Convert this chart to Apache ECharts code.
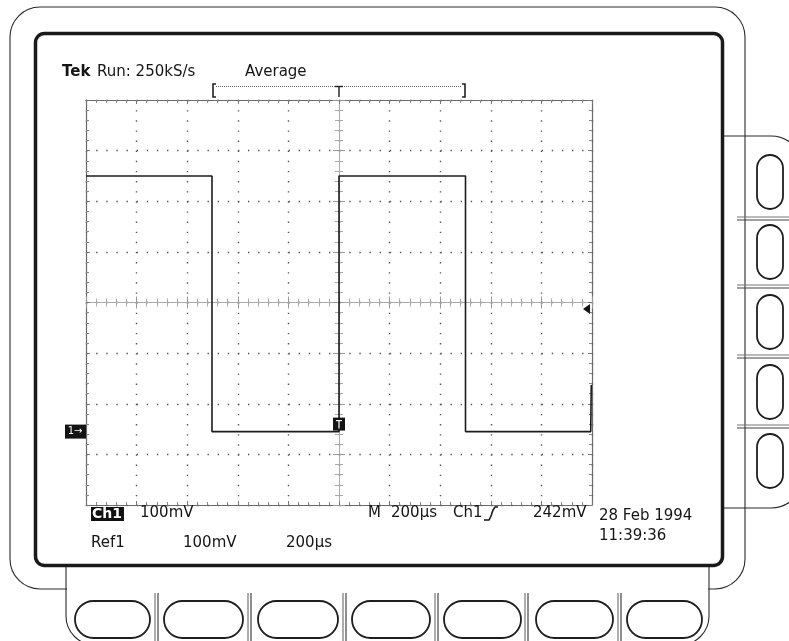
<!DOCTYPE html>
<html>
<head>
<meta charset="utf-8">
<script src="https://cdn.jsdelivr.net/npm/echarts@6/dist/echarts.min.js"></script>
<style>
html,body{margin:0;padding:0;background:#fff;}
#c{width:789px;height:641px;}
</style>
</head>
<body>
<div id="c"></div>
<script>
// ---- data (time in µs relative to trigger, Ch1 in mV on screen scale, centre = 0) ----
const timeUs = [-1000, -502, -502, 0, 0, 500, 500, 995, 997];
const ch1mV  = [250, 250, -255, -255, 250, 250, -255, -255, -163];
const timeTicksUs = [-1000, -800, -600, -400, -200, 0, 200, 400, 600, 800, 1000];
const voltTicksMv = [-400, -300, -200, -100, 0, 100, 200, 300, 400];
const groundMv = -255;
const triggerLevelMv = 242;   // relative to ground
const triggerTimeUs = 0;

const headerTexts = ['Run: 250kS/s', 'Average'];
const readoutRow1 = ['100mV', 'M', '200\u00b5s', 'Ch1', '242mV', '28 Feb 1994'];
const readoutRow2 = ['Ref1', '100mV', '200\u00b5s', '11:39:36'];

const chart = echarts.init(document.getElementById('c'), null, {renderer: 'canvas'});
const FONT = '"DejaVu Sans", sans-serif';
const grid = {left: 86, top: 100, width: 506, height: 405};

function frameAxis(pos, isX, extra) {
  const base = {
    type: 'value',
    position: pos,
    min: isX ? timeTicksUs[0] : voltTicksMv[0],
    max: isX ? timeTicksUs[timeTicksUs.length - 1] : voltTicksMv[voltTicksMv.length - 1],
    interval: isX ? 200 : 100,
    axisLabel: {show: false},
    axisLine: {show: true, onZero: false, lineStyle: {color: '#6a6a6a', width: 1.2}},
    axisTick: {show: true, inside: true, length: 4, lineStyle: {color: '#777', width: 1}},
    minorTick: {show: true, splitNumber: 5, length: 3, lineStyle: {color: '#888', width: 1}},
    splitLine: {show: false},
    z: 2
  };
  return Object.assign(base, extra || {});
}
const dotted = {show: true, lineStyle: {color: '#555', width: 1.4, type: [1.4, 8.725]}};

const xAxes = [
  frameAxis('bottom', true, {splitLine: dotted}),
  frameAxis('top', true),
  frameAxis('bottom', true, {axisLine: {show: true, onZero: true, onZeroAxisIndex: 0, lineStyle: {color: '#aaa', width: 1}},
    axisTick: {show: true, inside: true, length: 6, lineStyle: {color: '#999'}}, minorTick: {show: true, splitNumber: 5, length: 4, lineStyle: {color: '#aaa'}}}),
  frameAxis('bottom', true, {axisLine: {show: false, onZero: true, onZeroAxisIndex: 1},
    axisTick: {show: true, inside: false, length: 6, lineStyle: {color: '#999'}}, minorTick: {show: true, splitNumber: 5, length: 4, lineStyle: {color: '#aaa'}}})
];
const yAxes = [
  frameAxis('left', false, {splitLine: dotted}),
  frameAxis('right', false),
  frameAxis('left', false, {axisLine: {show: true, onZero: true, onZeroAxisIndex: 0, lineStyle: {color: '#aaa', width: 1}},
    axisTick: {show: true, inside: true, length: 6, lineStyle: {color: '#999'}}, minorTick: {show: true, splitNumber: 5, length: 4, lineStyle: {color: '#aaa'}}}),
  frameAxis('left', false, {axisLine: {show: false, onZero: true, onZeroAxisIndex: 1},
    axisTick: {show: true, inside: false, length: 6, lineStyle: {color: '#999'}}, minorTick: {show: true, splitNumber: 5, length: 4, lineStyle: {color: '#aaa'}}})
];

chart.setOption({
  animation: false,
  backgroundColor: '#ffffff',
  grid: grid,
  xAxis: xAxes,
  yAxis: yAxes,
  series: [{
    type: 'line',
    data: timeUs.map((t, i) => [t, ch1mV[i]]),
    showSymbol: false,
    symbol: 'none',
    lineStyle: {color: '#1c1c1c', width: 1.6},
    z: 5
  }]
});

// ---- decorations (bezel, readouts, markers) ----
const g = [];
const txt = (x, y, s, opt) => g.push(Object.assign({type: 'text', x: x, y: y, z: 20,
  style: Object.assign({text: s, font: '15px ' + FONT, fill: '#151515', verticalAlign: 'middle', align: 'left'}, opt || {})}));
const pl = (pts, opt) => g.push({type: 'polyline', z: 10, shape: {points: pts},
  style: Object.assign({fill: null, stroke: '#2a2a2a', lineWidth: 1}, opt || {})});
const arc = (cx, cy, r, a0, a1, opt) => g.push({type: 'arc', z: 10, shape: {cx: cx, cy: cy, r: r, startAngle: a0, endAngle: a1, clockwise: true},
  style: Object.assign({fill: null, stroke: '#2a2a2a', lineWidth: 1.1}, opt || {})});
const rrect = (x, y, w, h, r, opt) => g.push({type: 'rect', z: 10, shape: {x: x, y: y, width: w, height: h, r: r},
  style: Object.assign({fill: null, stroke: '#1e1e1e', lineWidth: 1.8}, opt || {})});
const PI = Math.PI;

// outer bezel (rounded rect, bottom edge hidden behind the bottom button panel)
rrect(10, 7, 735, 582, 30, {stroke: '#2a2a2a', lineWidth: 1.1});
g.push({type: 'rect', z: 11, shape: {x: 67, y: 585, width: 641, height: 8}, style: {fill: '#fff'}});
// side button panel (square on the screen side, rounded on the right)
pl([[723, 136], [771, 136]], {lineWidth: 1.1});
arc(771, 168, 32, -PI / 2, 0);
pl([[723, 508], [771, 508]], {lineWidth: 1.1});
arc(771, 476, 32, 0, PI / 2);
[217, 285, 355, 425].forEach(y => {
  pl([[737, y], [789, y]], {stroke: '#777', lineWidth: 1.2});
  pl([[737, y + 3], [789, y + 3]], {stroke: '#444', lineWidth: 1.2});
});
[155, 225, 295, 365, 434].forEach(y => rrect(757, y, 26, 54, 13));
// bottom button panel
pl([[66, 567], [66, 616]], {lineWidth: 1.1});
arc(95, 616, 29, PI / 2, PI);
pl([[709, 567], [709, 616]], {lineWidth: 1.1});
arc(680, 616, 29, 0, PI / 2);
[155, 248, 343, 435, 525, 618].forEach(x => {
  pl([[x, 589], [x, 645]], {stroke: '#777', lineWidth: 1.2});
  pl([[x + 3, 589], [x + 3, 645]], {stroke: '#444', lineWidth: 1.2});
});
[[75, 75], [164, 79], [258, 80], [352, 78], [444, 77], [536, 77], [627, 75]].forEach(b => rrect(b[0], 601, b[1], 37, 18.5));
// screen border
rrect(35.5, 33.5, 687, 532, 9, {stroke: '#1a1a1a', lineWidth: 3.5});

// header
txt(62, 72, 'Tek', {font: 'bold 15px ' + FONT});
txt(97, 72, headerTexts[0]);
txt(245, 72, headerTexts[1]);
// record view bracket
pl([[216, 84], [213, 84], [213, 97], [216, 97]], {stroke: '#222', lineWidth: 1.6});
pl([[216, 86.5], [462, 86.5]], {stroke: '#666', lineWidth: 1, lineDash: [1, 1]});
pl([[335, 86.5], [343, 86.5]], {stroke: '#222', lineWidth: 1.4});
pl([[339, 86.5], [339, 97]], {stroke: '#222', lineWidth: 1.4});
pl([[462, 84], [465, 84], [465, 97], [462, 97]], {stroke: '#222', lineWidth: 1.6});

// readouts row 1
txt(91, 514, 'Ch1', {fill: '#fff', backgroundColor: '#111', padding: [0, 2, 0, 1], font: 'bold 14px ' + FONT});
txt(140, 513, readoutRow1[0]);
txt(368, 513, readoutRow1[1]);
txt(391, 513, readoutRow1[2]);
txt(453, 513, readoutRow1[3]);
pl([[484, 520], [489, 520], [491, 516], [493, 510], [495, 507], [498, 507]], {stroke: '#151515', lineWidth: 1.6});
txt(533, 513, readoutRow1[4]);
txt(599, 516, readoutRow1[5]);
// readouts row 2
txt(91, 543, readoutRow2[0]);
txt(183, 543, readoutRow2[1]);
txt(286, 543, readoutRow2[2]);
txt(599, 536, readoutRow2[3]);

// markers positioned through the axes
const pGround = chart.convertToPixel({xAxisIndex: 0, yAxisIndex: 0}, [timeTicksUs[0], groundMv]);
const pTrig = chart.convertToPixel({xAxisIndex: 0, yAxisIndex: 0}, [timeTicksUs[timeTicksUs.length - 1], groundMv + triggerLevelMv]);
const pTpos = chart.convertToPixel({xAxisIndex: 0, yAxisIndex: 0}, [triggerTimeUs, groundMv]);
g.push({type: 'rect', z: 15, shape: {x: pGround[0] - 21, y: pGround[1] - 7, width: 21, height: 14}, style: {fill: '#141414'}});
g.push({type: 'text', z: 16, x: pGround[0] - 11, y: pGround[1], style: {text: '1\u2192', font: '10px ' + FONT, fill: '#fff', align: 'center', verticalAlign: 'middle'}});
g.push({type: 'polygon', z: 15, shape: {points: [[pTrig[0] - 9, pTrig[1]], [pTrig[0] - 2, pTrig[1] - 5], [pTrig[0] - 2, pTrig[1] + 5]]}, style: {fill: '#141414'}});
g.push({type: 'rect', z: 15, shape: {x: pTpos[0] - 6, y: pTpos[1] - 14, width: 12, height: 13}, style: {fill: '#141414'}});
pl([[pTpos[0] - 3, pTpos[1] - 11], [pTpos[0] + 3, pTpos[1] - 11]], {stroke: '#fff', lineWidth: 1.2});
pl([[pTpos[0], pTpos[1] - 11], [pTpos[0], pTpos[1] - 3]], {stroke: '#fff', lineWidth: 1.2});
g[g.length - 1].z = 16; g[g.length - 2].z = 16;

chart.setOption({graphic: {elements: g}});
</script>
</body>
</html>
